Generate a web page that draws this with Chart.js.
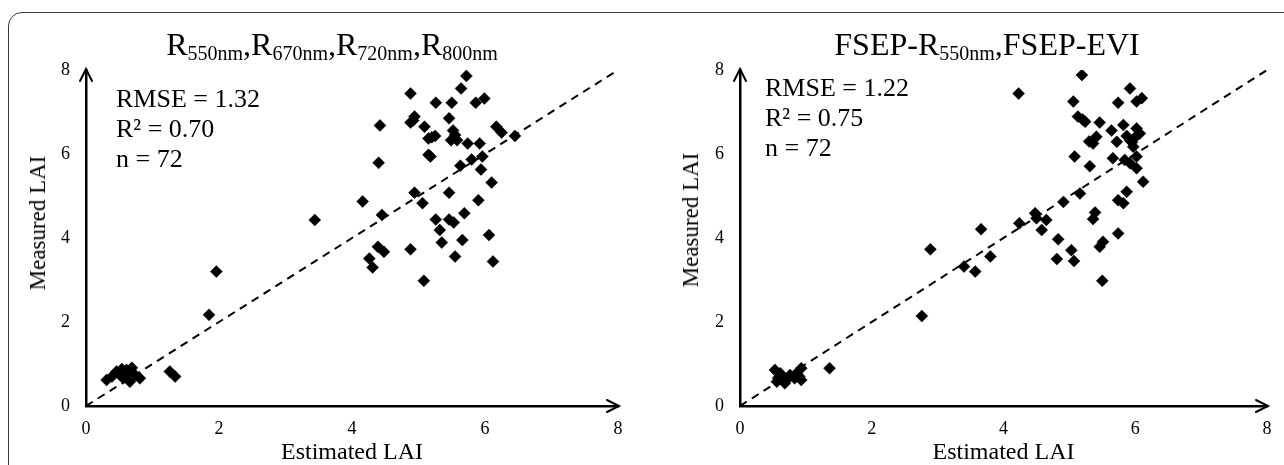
<!DOCTYPE html>
<html>
<head>
<meta charset="utf-8">
<script src="https://cdn.jsdelivr.net/npm/chart.js@4.4.0/dist/chart.umd.min.js"></script>
<style>
  body { margin: 0; width: 1284px; height: 465px; overflow: hidden; background: #fff; font-family: "Liberation Serif", "Times New Roman", serif; position: relative; }
  .frame { position: absolute; left: 8px; top: 12px; width: 1330px; height: 520px; border: 1.5px solid #3a3a3a; border-radius: 14px; }
  canvas { position: absolute; top: 0; }
  .title { position: absolute; top: 28px; font-size: 32px; line-height: 32px; white-space: nowrap; transform: translateX(-50%); color: #000; }
  .title .sub { font-size: 20px; position: relative; top: 5px; }
  .stats { position: absolute; font-size: 26px; line-height: 30px; color: #000; white-space: nowrap; }
  .ytitle { position: absolute; font-size: 23px; line-height: 26px; color: #000; white-space: nowrap; transform: translate(-50%, -50%) rotate(-90deg); }
</style>
</head>
<body>
<div class="frame"></div>

<canvas id="chartLeft" width="640" height="470" style="left:0"></canvas>
<canvas id="chartRight" width="644" height="470" style="left:640px"></canvas>

<div class="title" style="left:332px">R<span class="sub">550nm</span>,R<span class="sub">670nm</span>,R<span class="sub">720nm</span>,R<span class="sub">800nm</span></div>
<div class="title" style="left:987px">FSEP-R<span class="sub">550nm</span>,FSEP-EVI</div>

<div class="ytitle" style="left:38px; top:223px">Measured LAI</div>
<div class="ytitle" style="left:691px; top:220px">Measured LAI</div>

<div class="stats" style="left:116px; top:84px">RMSE = 1.32<br>R² = 0.70<br>n = 72</div>
<div class="stats" style="left:765px; top:73px">RMSE = 1.22<br>R² = 0.75<br>n = 72</div>

<script>
// Left panel: R550nm, R670nm, R720nm, R800nm
const estimatedA = [
  5.72, 5.64, 4.88, 5.99, 5.26, 5.50, 5.86, 4.94, 4.88, 4.42,
  5.46, 5.09, 6.17, 6.25, 6.45, 5.25, 5.15, 5.52, 5.49, 5.58,
  5.74, 5.92, 5.18, 5.15, 4.40, 5.96, 5.80, 5.63, 5.94, 6.10,
  4.94, 5.46, 4.16, 5.06, 5.90, 4.45, 5.69, 5.26, 5.46, 5.53,
  3.44, 5.32, 6.06, 5.35, 5.66, 4.39, 4.48, 4.88, 4.26, 4.31,
  5.55, 6.12, 5.08, 1.96, 1.85, 1.26, 1.34, 0.31, 0.39, 0.46,
  0.54, 0.61, 0.69, 0.56, 0.66, 0.81, 0.74, 5.20, 4.92, 5.55,
  0.50, 0.63
];
const measuredA = [
  7.86, 7.56, 7.44, 7.32, 7.22, 7.22, 7.22, 6.89, 6.75, 6.68,
  6.85, 6.65, 6.65, 6.51, 6.43, 6.43, 6.37, 6.56, 6.33, 6.33,
  6.25, 6.25, 5.94, 5.98, 5.79, 5.94, 5.87, 5.72, 5.63, 5.32,
  5.08, 5.08, 4.87, 4.83, 4.90, 4.55, 4.59, 4.44, 4.44, 4.37,
  4.43, 4.19, 4.07, 3.89, 3.95, 3.79, 3.67, 3.73, 3.51, 3.30,
  3.56, 3.44, 2.98, 3.20, 2.17, 0.82, 0.70, 0.62, 0.70, 0.82,
  0.88, 0.86, 0.91, 0.66, 0.58, 0.66, 0.74, 6.40, 6.80, 6.45,
  0.76, 0.80
];

// Right panel: FSEP-R550nm, FSEP-EVI
const estimatedB = [
  5.19, 5.92, 5.06, 5.74, 6.02, 6.10, 5.13, 5.24, 5.46, 5.64,
  5.41, 5.36, 5.82, 6.02, 6.07, 5.92, 5.97, 5.87, 5.08, 5.66,
  5.84, 6.02, 5.31, 5.92, 6.02, 6.12, 5.16, 5.87, 4.91, 5.74,
  5.82, 4.48, 4.50, 4.65, 5.39, 5.36, 4.58, 5.74, 4.83, 5.51,
  5.46, 5.03, 4.81, 5.07, 5.50, 4.23, 4.24, 3.66, 2.89, 3.80,
  3.40, 3.57, 2.76, 1.36, 0.53, 0.58, 0.61, 0.68, 0.76, 0.83,
  0.93, 0.93, 0.86, 0.56, 5.95, 6.00, 5.72, 5.30, 5.20, 0.60,
  0.72, 0.90
];
const measuredB = [
  7.88, 7.56, 7.25, 7.22, 7.25, 7.33, 6.89, 6.77, 6.75, 6.56,
  6.41, 6.25, 6.69, 6.61, 6.49, 6.33, 6.17, 6.43, 5.94, 5.90,
  5.86, 5.94, 5.71, 5.78, 5.66, 5.34, 5.06, 5.10, 4.86, 4.90,
  4.83, 4.59, 4.47, 4.43, 4.61, 4.45, 4.19, 4.11, 3.97, 3.91,
  3.79, 3.71, 3.50, 3.45, 2.98, 7.44, 4.35, 4.21, 3.73, 3.56,
  3.32, 3.20, 2.14, 0.90, 0.86, 0.66, 0.78, 0.54, 0.74, 0.66,
  0.90, 0.62, 0.78, 0.58, 6.28, 6.40, 6.29, 6.30, 6.82, 0.70,
  0.64, 0.70
];

const oneToOne = [0, 8];
const axisTicks = [0, 2, 4, 6, 8];

const serif = '"Liberation Serif", "Times New Roman", serif';

// open arrow heads at the ends of both axes
const axisArrows = {
  id: 'axisArrows',
  afterDraw(chart) {
    const { ctx, chartArea: a } = chart;
    ctx.save();
    ctx.strokeStyle = '#000';
    ctx.lineWidth = 2;
    ctx.lineCap = 'round';
    ctx.beginPath();
    ctx.moveTo(a.left - 6, a.top + 11);
    ctx.lineTo(a.left, a.top - 1);
    ctx.lineTo(a.left + 6, a.top + 11);
    ctx.moveTo(a.right - 11, a.bottom - 6);
    ctx.lineTo(a.right + 1, a.bottom);
    ctx.lineTo(a.right - 11, a.bottom + 6);
    ctx.stroke();
    ctx.restore();
  }
};

function makeChart(id, xs, ys, yAxisWidth, rightPad) {
  const points = xs.map((x, i) => ({ x: x, y: ys[i] }));
  const line = oneToOne.map(v => ({ x: v, y: v }));
  return new Chart(document.getElementById(id), {
    type: 'scatter',
    data: {
      datasets: [{
        data: points,
        pointStyle: 'rectRot',
        pointRadius: 6,
        pointBorderWidth: 0.5,
        backgroundColor: '#000',
        borderColor: '#000'
      }, {
        data: line,
        showLine: true,
        borderColor: '#000',
        borderWidth: 2,
        borderDash: [8, 6],
        pointRadius: 0
      }]
    },
    options: {
      responsive: false,
      animation: false,
      events: [],
      layout: { padding: { top: 70, right: rightPad, left: 0, bottom: 0 } },
      plugins: { legend: { display: false }, tooltip: { enabled: false } },
      scales: {
        x: {
          type: 'linear',
          min: 0, max: 8,
          afterFit: s => { s.height = 64; },
          afterBuildTicks: s => { s.ticks = axisTicks.map(v => ({ value: v })); },
          grid: { display: false, drawTicks: false },
          border: { display: true, color: '#000', width: 2.5 },
          ticks: { color: '#000', padding: 12, font: { family: serif, size: 18 } },
          title: { display: true, text: 'Estimated LAI', color: '#000', padding: { top: 3, bottom: 3 }, font: { family: serif, size: 24 } }
        },
        y: {
          type: 'linear',
          min: 0, max: 8,
          afterFit: s => { s.width = yAxisWidth; },
          afterBuildTicks: s => { s.ticks = axisTicks.map(v => ({ value: v })); },
          grid: { display: false, drawTicks: false },
          border: { display: true, color: '#000', width: 2.5 },
          ticks: { color: '#000', padding: 16, font: { family: serif, size: 18 } }
        }
      }
    },
    plugins: [axisArrows]
  });
}

makeChart('chartLeft', estimatedA, measuredA, 86, 22);
makeChart('chartRight', estimatedB, measuredB, 100, 17);
</script>
</body>
</html>
